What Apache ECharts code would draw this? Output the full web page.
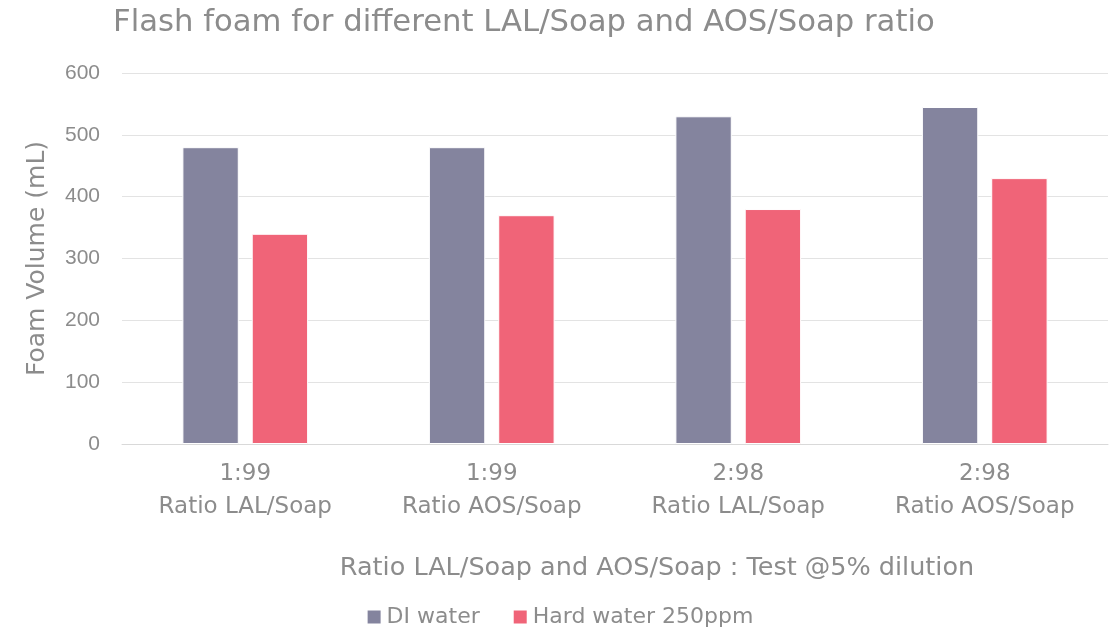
<!DOCTYPE html>
<html><head><meta charset="utf-8">
<script src="https://cdn.jsdelivr.net/npm/echarts@6/dist/echarts.min.js"></script>
<style>html,body{margin:0;padding:0;background:#fff}#c{width:1119px;height:628px}</style>
</head><body><div id="c"></div>
<script>
const categories = ["1:99\nRatio LAL/Soap", "1:99\nRatio AOS/Soap", "2:98\nRatio LAL/Soap", "2:98\nRatio AOS/Soap"];
const diWater = [480, 480, 530, 545];
const hardWater = [340, 370, 380, 430];
const seriesNames = ["DI water", "Hard water 250ppm"];

const txt = '#8c8c8c';
const font = 'DejaVu Sans';
const numFont = 'Liberation Sans';
const chart = echarts.init(document.getElementById('c'));
chart.setOption({
  animation: false,
  title: { text: 'Flash foam for different LAL/Soap and AOS/Soap ratio', left: 108, top: 3,
    textStyle: { color: txt, fontSize: 30.7, fontWeight: 'normal', fontFamily: font } },
  legend: { top: 601, left: 'center', itemWidth: 15, itemHeight: 15, itemGap: 32,
    icon: 'rect', textStyle: { color: txt, fontSize: 22, fontFamily: font },
    data: seriesNames },
  grid: { left: 122, right: 11, top: 73, bottom: 184 },
  xAxis: { type: 'category', data: categories,
    name: 'Ratio LAL/Soap and AOS/Soap : Test @5% dilution', nameLocation: 'middle', nameGap: 111,
    nameTextStyle: { color: txt, fontSize: 25.5, fontFamily: font, padding: [0, 0, 0, 84] },
    axisLine: { lineStyle: { color: '#d9d9d9' } }, axisTick: { show: false },
    axisLabel: { color: txt, fontSize: 23, fontFamily: font, lineHeight: 33, margin: 14 } },
  yAxis: { type: 'value', min: 0, max: 600, interval: 100,
    name: 'Foam Volume (mL)', nameLocation: 'middle', nameGap: 72,
    nameTextStyle: { color: txt, fontSize: 25, fontFamily: font },
    axisLabel: { color: txt, fontSize: 21, fontFamily: numFont, margin: 22 },
    splitLine: { lineStyle: { color: '#e3e3e3', width: 1 } } },
  series: [
    { name: seriesNames[0], type: 'bar', data: diWater, barGap: '23%', barCategoryGap: '49%',
      itemStyle: { color: '#84849e', borderColor: '#fff', borderWidth: 1 } },
    { name: seriesNames[1], type: 'bar', data: hardWater,
      itemStyle: { color: '#f06478', borderColor: '#fff', borderWidth: 1 } }
  ]
});
</script></body></html>
